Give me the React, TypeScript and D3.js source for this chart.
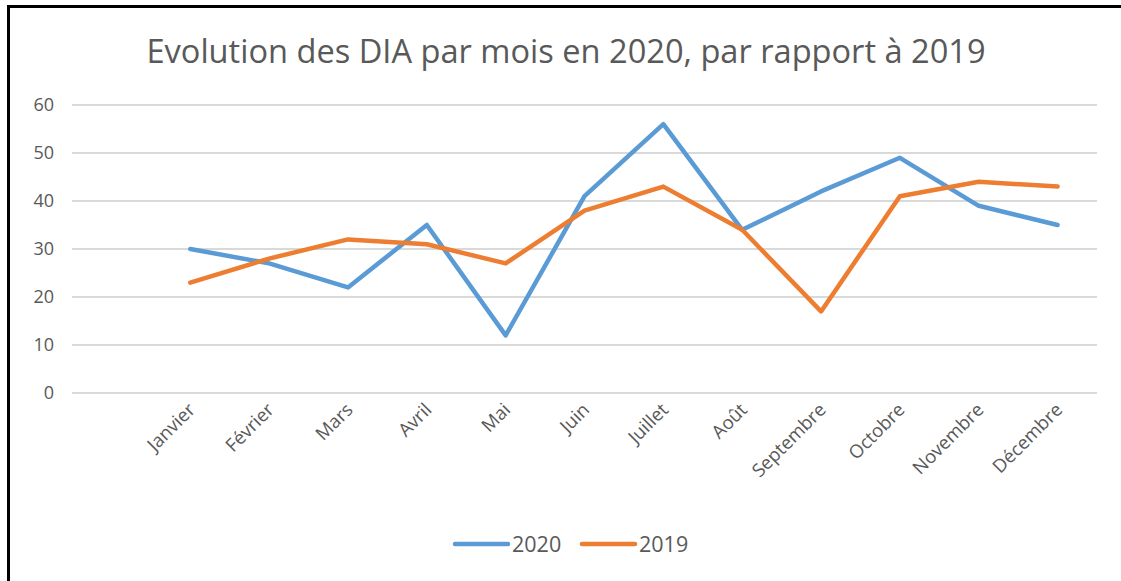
import React from "react";
import * as d3 from "d3";

const months = ["Janvier", "Février", "Mars", "Avril", "Mai", "Juin", "Juillet", "Août", "Septembre", "Octobre", "Novembre", "Décembre"];
const values2020 = [30, 27, 22, 35, 12, 41, 56, 34, 42, 49, 39, 35];
const values2019 = [23, 28, 32, 31, 27, 38, 43, 34, 17, 41, 44, 43];
const yTicks = [0, 10, 20, 30, 40, 50, 60];
const seriesNames = ["2020", "2019"];

const W = 1121;
const H = 581;
const FONT = "'Open Sans', 'DejaVu Sans', sans-serif";
const TEXT = "#595959";
const COLORS = ["#5B9BD5", "#ED7D31"];

export default function App() {
  const left = 72, right = 1097, top = 105, bottom = 393;
  // first slot is an empty category, as in the original
  const x = d3.scaleBand<string>().domain(["", ...months]).range([left, right]);
  const cx = (m: string) => (x(m) as number) + x.bandwidth() / 2;
  const y = d3.scaleLinear().domain([0, 60]).range([bottom, top]);
  const line = d3.line<number>().x((_, i) => cx(months[i])).y((v) => y(v));
  const series = [values2020, values2019];

  return (
    <svg width={W} height={H} style={{ position: "absolute", left: 0, top: 0, background: "#fff" }}>
      <rect x={0} y={0} width={W} height={H} fill="#fff" />
      <line x1={8.5} y1={6} x2={8.5} y2={H} stroke="#000" strokeWidth={3} />
      <line x1={7} y1={6.5} x2={W} y2={6.5} stroke="#000" strokeWidth={3} />
      <text x={566} y={63} textAnchor="middle" fontFamily={FONT} fontSize={32.6} fill={TEXT}>
        Evolution des DIA par mois en 2020, par rapport à 2019
      </text>
      {yTicks.map((t) => (
        <g key={t}>
          <line x1={left} x2={right} y1={y(t)} y2={y(t)} stroke="#D9D9D9" strokeWidth={2} />
          <text x={54} y={y(t)} dy="0.35em" textAnchor="end" fontFamily={FONT} fontSize={18} fill={TEXT}>
            {t}
          </text>
        </g>
      ))}
      {months.map((m) => (
        <text
          key={m}
          transform={`translate(${cx(m) + 6},${411}) rotate(-45)`}
          textAnchor="end"
          fontFamily={FONT}
          fontSize={18.5}
          fill={TEXT}
        >
          {m}
        </text>
      ))}
      {series.map((s, i) => (
        <path
          key={i}
          d={line(s) as string}
          fill="none"
          stroke={COLORS[i]}
          strokeWidth={4.5}
          strokeLinecap="round"
          strokeLinejoin="round"
        />
      ))}
      {seriesNames.map((n, i) => {
        const lx = i === 0 ? 455 : 582;
        return (
          <g key={n}>
            <line x1={lx} x2={lx + 53} y1={544} y2={544} stroke={COLORS[i]} strokeWidth={4.5} strokeLinecap="round" />
            <text x={lx + 57} y={544} dy="0.35em" fontFamily={FONT} fontSize={21.5} fill={TEXT}>
              {n}
            </text>
          </g>
        );
      })}
    </svg>
  );
}
